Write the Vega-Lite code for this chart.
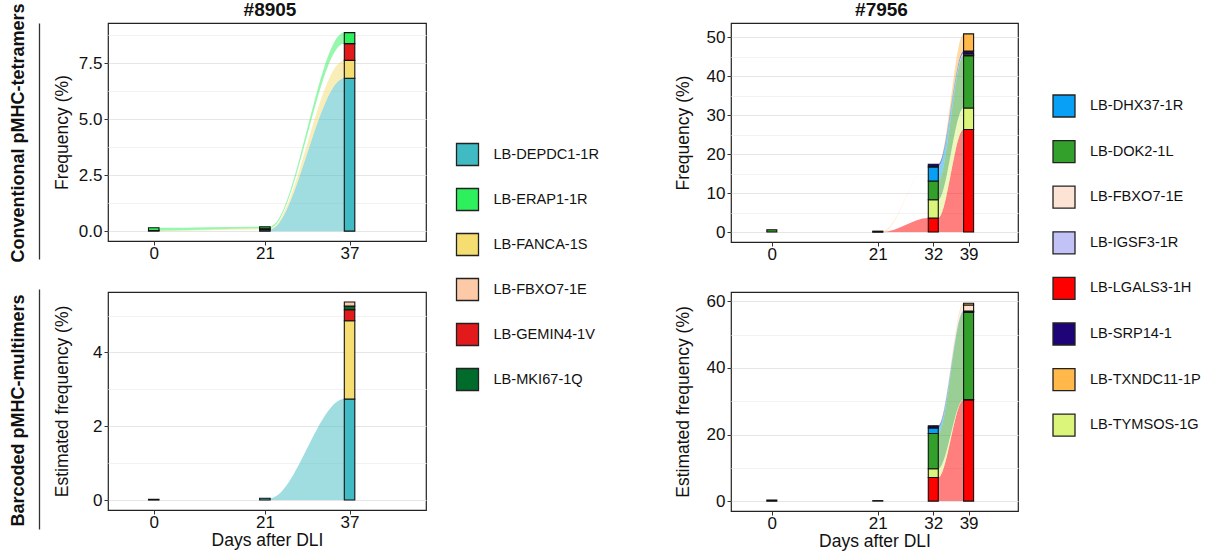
{
"$schema": "https://vega.github.io/schema/vega-lite/v6.json",
"padding": {"left": 8, "top": 0, "right": 2, "bottom": 2},
"config": {
  "font": "Liberation Sans",
  "view": {"stroke": "#222", "strokeWidth": 1.2},
  "axis": {"domain": false, "grid": false, "tickColor": "#333", "tickSize": 4, "labelFontSize": 17, "labelColor": "#111", "titleFontSize": 17.5, "titleFontWeight": "normal", "titleColor": "#111", "labelPadding": 2, "labelOverlap": false, "labelFlush": false},
  "title": {"fontSize": 19, "fontWeight": "bold", "color": "#111", "offset": 3},
  "legend": {"orient": "none", "title": null, "symbolType": "square", "symbolSize": 484, "symbolStrokeColor": "#222", "symbolStrokeWidth": 1.3, "symbolOpacity": 1, "labelFontSize": 14.6, "labelColor": "#111", "labelOffset": 14, "padding": 0}
},
"datasets": {
  "tl_bars": [
    {"day":0,"epitope":"LB-FANCA-1S","rank":2,"freq":0.03},
    {"day":0,"epitope":"LB-ERAP1-1R","rank":4,"freq":0.12},
    {"day":21,"epitope":"LB-DEPDC1-1R","rank":1,"freq":0.07},
    {"day":21,"epitope":"LB-FANCA-1S","rank":2,"freq":0.06},
    {"day":21,"epitope":"LB-ERAP1-1R","rank":4,"freq":0.07},
    {"day":37,"epitope":"LB-DEPDC1-1R","rank":1,"freq":6.83},
    {"day":37,"epitope":"LB-FANCA-1S","rank":2,"freq":0.80},
    {"day":37,"epitope":"LB-GEMIN4-1V","rank":3,"freq":0.75},
    {"day":37,"epitope":"LB-ERAP1-1R","rank":4,"freq":0.49}
  ],
  "tl_flows": [
    {"seg":"0-21","epitope":"LB-DEPDC1-1R","rank":1,"linked":"no","day":0,"freq":0},
    {"seg":"0-21","epitope":"LB-DEPDC1-1R","rank":1,"linked":"no","day":1,"freq":0},
    {"seg":"0-21","epitope":"LB-DEPDC1-1R","rank":1,"linked":"no","day":20,"freq":0.07},
    {"seg":"0-21","epitope":"LB-DEPDC1-1R","rank":1,"linked":"no","day":21,"freq":0.07},
    {"seg":"0-21","epitope":"LB-FANCA-1S","rank":2,"linked":"yes","day":0,"freq":0.03},
    {"seg":"0-21","epitope":"LB-FANCA-1S","rank":2,"linked":"yes","day":1,"freq":0.03},
    {"seg":"0-21","epitope":"LB-FANCA-1S","rank":2,"linked":"yes","day":20,"freq":0.06},
    {"seg":"0-21","epitope":"LB-FANCA-1S","rank":2,"linked":"yes","day":21,"freq":0.06},
    {"seg":"0-21","epitope":"LB-ERAP1-1R","rank":4,"linked":"yes","day":0,"freq":0.12},
    {"seg":"0-21","epitope":"LB-ERAP1-1R","rank":4,"linked":"yes","day":1,"freq":0.12},
    {"seg":"0-21","epitope":"LB-ERAP1-1R","rank":4,"linked":"yes","day":20,"freq":0.07},
    {"seg":"0-21","epitope":"LB-ERAP1-1R","rank":4,"linked":"yes","day":21,"freq":0.07},
    {"seg":"21-37","epitope":"LB-DEPDC1-1R","rank":1,"linked":"yes","day":21,"freq":0.07},
    {"seg":"21-37","epitope":"LB-DEPDC1-1R","rank":1,"linked":"yes","day":22,"freq":0.07},
    {"seg":"21-37","epitope":"LB-DEPDC1-1R","rank":1,"linked":"yes","day":36,"freq":6.83},
    {"seg":"21-37","epitope":"LB-DEPDC1-1R","rank":1,"linked":"yes","day":37,"freq":6.83},
    {"seg":"21-37","epitope":"LB-FANCA-1S","rank":2,"linked":"yes","day":21,"freq":0.06},
    {"seg":"21-37","epitope":"LB-FANCA-1S","rank":2,"linked":"yes","day":22,"freq":0.06},
    {"seg":"21-37","epitope":"LB-FANCA-1S","rank":2,"linked":"yes","day":36,"freq":0.80},
    {"seg":"21-37","epitope":"LB-FANCA-1S","rank":2,"linked":"yes","day":37,"freq":0.80},
    {"seg":"21-37","epitope":"LB-GEMIN4-1V","rank":3,"linked":"no","day":21,"freq":0},
    {"seg":"21-37","epitope":"LB-GEMIN4-1V","rank":3,"linked":"no","day":22,"freq":0},
    {"seg":"21-37","epitope":"LB-GEMIN4-1V","rank":3,"linked":"no","day":36,"freq":0.75},
    {"seg":"21-37","epitope":"LB-GEMIN4-1V","rank":3,"linked":"no","day":37,"freq":0.75},
    {"seg":"21-37","epitope":"LB-ERAP1-1R","rank":4,"linked":"yes","day":21,"freq":0.07},
    {"seg":"21-37","epitope":"LB-ERAP1-1R","rank":4,"linked":"yes","day":22,"freq":0.07},
    {"seg":"21-37","epitope":"LB-ERAP1-1R","rank":4,"linked":"yes","day":36,"freq":0.49},
    {"seg":"21-37","epitope":"LB-ERAP1-1R","rank":4,"linked":"yes","day":37,"freq":0.49}
  ],
  "bl_bars": [
    {"day":0,"epitope":"LB-DEPDC1-1R","rank":1,"freq":0.02},
    {"day":21,"epitope":"LB-DEPDC1-1R","rank":1,"freq":0.05},
    {"day":37,"epitope":"LB-DEPDC1-1R","rank":1,"freq":2.74},
    {"day":37,"epitope":"LB-FANCA-1S","rank":2,"freq":2.12},
    {"day":37,"epitope":"LB-GEMIN4-1V","rank":3,"freq":0.30},
    {"day":37,"epitope":"LB-MKI67-1Q","rank":5,"freq":0.10},
    {"day":37,"epitope":"LB-FBXO7-1E","rank":6,"freq":0.11}
  ],
  "bl_flows": [
    {"seg":"21-37","epitope":"LB-DEPDC1-1R","rank":1,"linked":"yes","day":21,"freq":0.05},
    {"seg":"21-37","epitope":"LB-DEPDC1-1R","rank":1,"linked":"yes","day":22,"freq":0.05},
    {"seg":"21-37","epitope":"LB-DEPDC1-1R","rank":1,"linked":"yes","day":36,"freq":2.74},
    {"seg":"21-37","epitope":"LB-DEPDC1-1R","rank":1,"linked":"yes","day":37,"freq":2.74}
  ],
  "tr_bars": [
    {"day":0,"epitope":"LB-DOK2-1L","rank":3,"freq":0.6},
    {"day":21,"epitope":"LB-LGALS3-1H","rank":1,"freq":0.03},
    {"day":21,"epitope":"LB-TXNDC11-1P","rank":8,"freq":0.2},
    {"day":32,"epitope":"LB-LGALS3-1H","rank":1,"freq":3.6},
    {"day":32,"epitope":"LB-TYMSOS-1G","rank":2,"freq":4.7},
    {"day":32,"epitope":"LB-DOK2-1L","rank":3,"freq":4.8},
    {"day":32,"epitope":"LB-DHX37-1R","rank":4,"freq":3.6},
    {"day":32,"epitope":"LB-SRP14-1","rank":6,"freq":0.7},
    {"day":39,"epitope":"LB-LGALS3-1H","rank":1,"freq":26.3},
    {"day":39,"epitope":"LB-TYMSOS-1G","rank":2,"freq":5.5},
    {"day":39,"epitope":"LB-DOK2-1L","rank":3,"freq":13.4},
    {"day":39,"epitope":"LB-DHX37-1R","rank":4,"freq":0.2},
    {"day":39,"epitope":"LB-IGSF3-1R","rank":5,"freq":0.3},
    {"day":39,"epitope":"LB-SRP14-1","rank":6,"freq":0.7},
    {"day":39,"epitope":"LB-TXNDC11-1P","rank":8,"freq":4.4}
  ],
  "tr_flows": [
    {"seg":"21-32","epitope":"LB-LGALS3-1H","rank":1,"linked":"yes","day":21,"freq":0.03},
    {"seg":"21-32","epitope":"LB-LGALS3-1H","rank":1,"linked":"yes","day":22,"freq":0.03},
    {"seg":"21-32","epitope":"LB-LGALS3-1H","rank":1,"linked":"yes","day":31,"freq":3.6},
    {"seg":"21-32","epitope":"LB-LGALS3-1H","rank":1,"linked":"yes","day":32,"freq":3.6},
    {"seg":"21-32","epitope":"LB-TYMSOS-1G","rank":2,"linked":"no","day":21,"freq":0},
    {"seg":"21-32","epitope":"LB-TYMSOS-1G","rank":2,"linked":"no","day":22,"freq":0},
    {"seg":"21-32","epitope":"LB-TYMSOS-1G","rank":2,"linked":"no","day":31,"freq":4.7},
    {"seg":"21-32","epitope":"LB-TYMSOS-1G","rank":2,"linked":"no","day":32,"freq":4.7},
    {"seg":"21-32","epitope":"LB-DOK2-1L","rank":3,"linked":"no","day":21,"freq":0},
    {"seg":"21-32","epitope":"LB-DOK2-1L","rank":3,"linked":"no","day":22,"freq":0},
    {"seg":"21-32","epitope":"LB-DOK2-1L","rank":3,"linked":"no","day":31,"freq":4.8},
    {"seg":"21-32","epitope":"LB-DOK2-1L","rank":3,"linked":"no","day":32,"freq":4.8},
    {"seg":"21-32","epitope":"LB-DHX37-1R","rank":4,"linked":"no","day":21,"freq":0},
    {"seg":"21-32","epitope":"LB-DHX37-1R","rank":4,"linked":"no","day":22,"freq":0},
    {"seg":"21-32","epitope":"LB-DHX37-1R","rank":4,"linked":"no","day":31,"freq":3.6},
    {"seg":"21-32","epitope":"LB-DHX37-1R","rank":4,"linked":"no","day":32,"freq":3.6},
    {"seg":"21-32","epitope":"LB-SRP14-1","rank":6,"linked":"no","day":21,"freq":0},
    {"seg":"21-32","epitope":"LB-SRP14-1","rank":6,"linked":"no","day":22,"freq":0},
    {"seg":"21-32","epitope":"LB-SRP14-1","rank":6,"linked":"no","day":31,"freq":0.7},
    {"seg":"21-32","epitope":"LB-SRP14-1","rank":6,"linked":"no","day":32,"freq":0.7},
    {"seg":"21-32","epitope":"LB-TXNDC11-1P","rank":8,"linked":"yes","day":21,"freq":0.2},
    {"seg":"21-32","epitope":"LB-TXNDC11-1P","rank":8,"linked":"yes","day":22,"freq":0.2},
    {"seg":"21-32","epitope":"LB-TXNDC11-1P","rank":8,"linked":"yes","day":31,"freq":0},
    {"seg":"21-32","epitope":"LB-TXNDC11-1P","rank":8,"linked":"yes","day":32,"freq":0},
    {"seg":"32-39","epitope":"LB-LGALS3-1H","rank":1,"linked":"yes","day":32,"freq":3.6},
    {"seg":"32-39","epitope":"LB-LGALS3-1H","rank":1,"linked":"yes","day":33,"freq":3.6},
    {"seg":"32-39","epitope":"LB-LGALS3-1H","rank":1,"linked":"yes","day":38,"freq":26.3},
    {"seg":"32-39","epitope":"LB-LGALS3-1H","rank":1,"linked":"yes","day":39,"freq":26.3},
    {"seg":"32-39","epitope":"LB-TYMSOS-1G","rank":2,"linked":"yes","day":32,"freq":4.7},
    {"seg":"32-39","epitope":"LB-TYMSOS-1G","rank":2,"linked":"yes","day":33,"freq":4.7},
    {"seg":"32-39","epitope":"LB-TYMSOS-1G","rank":2,"linked":"yes","day":38,"freq":5.5},
    {"seg":"32-39","epitope":"LB-TYMSOS-1G","rank":2,"linked":"yes","day":39,"freq":5.5},
    {"seg":"32-39","epitope":"LB-DOK2-1L","rank":3,"linked":"yes","day":32,"freq":4.8},
    {"seg":"32-39","epitope":"LB-DOK2-1L","rank":3,"linked":"yes","day":33,"freq":4.8},
    {"seg":"32-39","epitope":"LB-DOK2-1L","rank":3,"linked":"yes","day":38,"freq":13.4},
    {"seg":"32-39","epitope":"LB-DOK2-1L","rank":3,"linked":"yes","day":39,"freq":13.4},
    {"seg":"32-39","epitope":"LB-DHX37-1R","rank":4,"linked":"yes","day":32,"freq":3.6},
    {"seg":"32-39","epitope":"LB-DHX37-1R","rank":4,"linked":"yes","day":33,"freq":3.6},
    {"seg":"32-39","epitope":"LB-DHX37-1R","rank":4,"linked":"yes","day":38,"freq":0.2},
    {"seg":"32-39","epitope":"LB-DHX37-1R","rank":4,"linked":"yes","day":39,"freq":0.2},
    {"seg":"32-39","epitope":"LB-IGSF3-1R","rank":5,"linked":"yes","day":32,"freq":0},
    {"seg":"32-39","epitope":"LB-IGSF3-1R","rank":5,"linked":"yes","day":33,"freq":0},
    {"seg":"32-39","epitope":"LB-IGSF3-1R","rank":5,"linked":"yes","day":38,"freq":0.3},
    {"seg":"32-39","epitope":"LB-IGSF3-1R","rank":5,"linked":"yes","day":39,"freq":0.3},
    {"seg":"32-39","epitope":"LB-SRP14-1","rank":6,"linked":"yes","day":32,"freq":0.7},
    {"seg":"32-39","epitope":"LB-SRP14-1","rank":6,"linked":"yes","day":33,"freq":0.7},
    {"seg":"32-39","epitope":"LB-SRP14-1","rank":6,"linked":"yes","day":38,"freq":0.7},
    {"seg":"32-39","epitope":"LB-SRP14-1","rank":6,"linked":"yes","day":39,"freq":0.7},
    {"seg":"32-39","epitope":"LB-TXNDC11-1P","rank":8,"linked":"yes","day":32,"freq":0},
    {"seg":"32-39","epitope":"LB-TXNDC11-1P","rank":8,"linked":"yes","day":33,"freq":0},
    {"seg":"32-39","epitope":"LB-TXNDC11-1P","rank":8,"linked":"yes","day":38,"freq":4.4},
    {"seg":"32-39","epitope":"LB-TXNDC11-1P","rank":8,"linked":"yes","day":39,"freq":4.4}
  ],
  "br_bars": [
    {"day":0,"epitope":"LB-SRP14-1","rank":6,"freq":0.35},
    {"day":21,"epitope":"LB-TXNDC11-1P","rank":8,"freq":0.15},
    {"day":32,"epitope":"LB-LGALS3-1H","rank":1,"freq":7.1},
    {"day":32,"epitope":"LB-TYMSOS-1G","rank":2,"freq":2.6},
    {"day":32,"epitope":"LB-DOK2-1L","rank":3,"freq":10.6},
    {"day":32,"epitope":"LB-DHX37-1R","rank":4,"freq":1.7},
    {"day":32,"epitope":"LB-SRP14-1","rank":6,"freq":0.6},
    {"day":39,"epitope":"LB-LGALS3-1H","rank":1,"freq":30.4},
    {"day":39,"epitope":"LB-TYMSOS-1G","rank":2,"freq":0.1},
    {"day":39,"epitope":"LB-DOK2-1L","rank":3,"freq":26.2},
    {"day":39,"epitope":"LB-DHX37-1R","rank":4,"freq":0.1},
    {"day":39,"epitope":"LB-IGSF3-1R","rank":5,"freq":0.1},
    {"day":39,"epitope":"LB-SRP14-1","rank":6,"freq":0.2},
    {"day":39,"epitope":"LB-FBXO7-1E","rank":7,"freq":1.8},
    {"day":39,"epitope":"LB-TXNDC11-1P","rank":8,"freq":0.5}
  ],
  "br_flows": [
    {"seg":"32-39","epitope":"LB-LGALS3-1H","rank":1,"linked":"yes","day":32,"freq":7.1},
    {"seg":"32-39","epitope":"LB-LGALS3-1H","rank":1,"linked":"yes","day":33,"freq":7.1},
    {"seg":"32-39","epitope":"LB-LGALS3-1H","rank":1,"linked":"yes","day":38,"freq":30.4},
    {"seg":"32-39","epitope":"LB-LGALS3-1H","rank":1,"linked":"yes","day":39,"freq":30.4},
    {"seg":"32-39","epitope":"LB-TYMSOS-1G","rank":2,"linked":"yes","day":32,"freq":2.6},
    {"seg":"32-39","epitope":"LB-TYMSOS-1G","rank":2,"linked":"yes","day":33,"freq":2.6},
    {"seg":"32-39","epitope":"LB-TYMSOS-1G","rank":2,"linked":"yes","day":38,"freq":0.1},
    {"seg":"32-39","epitope":"LB-TYMSOS-1G","rank":2,"linked":"yes","day":39,"freq":0.1},
    {"seg":"32-39","epitope":"LB-DOK2-1L","rank":3,"linked":"yes","day":32,"freq":10.6},
    {"seg":"32-39","epitope":"LB-DOK2-1L","rank":3,"linked":"yes","day":33,"freq":10.6},
    {"seg":"32-39","epitope":"LB-DOK2-1L","rank":3,"linked":"yes","day":38,"freq":26.2},
    {"seg":"32-39","epitope":"LB-DOK2-1L","rank":3,"linked":"yes","day":39,"freq":26.2},
    {"seg":"32-39","epitope":"LB-DHX37-1R","rank":4,"linked":"yes","day":32,"freq":1.7},
    {"seg":"32-39","epitope":"LB-DHX37-1R","rank":4,"linked":"yes","day":33,"freq":1.7},
    {"seg":"32-39","epitope":"LB-DHX37-1R","rank":4,"linked":"yes","day":38,"freq":0.1},
    {"seg":"32-39","epitope":"LB-DHX37-1R","rank":4,"linked":"yes","day":39,"freq":0.1},
    {"seg":"32-39","epitope":"LB-IGSF3-1R","rank":5,"linked":"yes","day":32,"freq":0},
    {"seg":"32-39","epitope":"LB-IGSF3-1R","rank":5,"linked":"yes","day":33,"freq":0},
    {"seg":"32-39","epitope":"LB-IGSF3-1R","rank":5,"linked":"yes","day":38,"freq":0.1},
    {"seg":"32-39","epitope":"LB-IGSF3-1R","rank":5,"linked":"yes","day":39,"freq":0.1},
    {"seg":"32-39","epitope":"LB-SRP14-1","rank":6,"linked":"yes","day":32,"freq":0.6},
    {"seg":"32-39","epitope":"LB-SRP14-1","rank":6,"linked":"yes","day":33,"freq":0.6},
    {"seg":"32-39","epitope":"LB-SRP14-1","rank":6,"linked":"yes","day":38,"freq":0.2},
    {"seg":"32-39","epitope":"LB-SRP14-1","rank":6,"linked":"yes","day":39,"freq":0.2},
    {"seg":"32-39","epitope":"LB-FBXO7-1E","rank":7,"linked":"yes","day":32,"freq":0},
    {"seg":"32-39","epitope":"LB-FBXO7-1E","rank":7,"linked":"yes","day":33,"freq":0},
    {"seg":"32-39","epitope":"LB-FBXO7-1E","rank":7,"linked":"yes","day":38,"freq":1.8},
    {"seg":"32-39","epitope":"LB-FBXO7-1E","rank":7,"linked":"yes","day":39,"freq":1.8},
    {"seg":"32-39","epitope":"LB-TXNDC11-1P","rank":8,"linked":"yes","day":32,"freq":0},
    {"seg":"32-39","epitope":"LB-TXNDC11-1P","rank":8,"linked":"yes","day":33,"freq":0},
    {"seg":"32-39","epitope":"LB-TXNDC11-1P","rank":8,"linked":"yes","day":38,"freq":0.5},
    {"seg":"32-39","epitope":"LB-TXNDC11-1P","rank":8,"linked":"yes","day":39,"freq":0.5}
  ]
},
"columns": 2,
"bounds": "flush",
"spacing": {"row": 50, "column": 305},
"resolve": {"scale": {"color": "independent", "opacity": "independent", "x": "independent", "y": "independent"}},
"concat": [
 {
  "width": 318, "height": 218,
  "title": {"text": "#8905", "frame": "group", "anchor": "middle", "dy": 20, "dx": 3},
  "layer": [
   {"layer": [
     {"data": {"name": "tl_flows"},
      "transform": [{"stack": "freq", "groupby": ["seg", "day"], "sort": [{"field": "rank", "order": "ascending"}], "as": ["y0", "y1"]}],
      "mark": {"type": "area", "interpolate": "monotone"},
      "encoding": {
        "x": {"field": "day", "type": "quantitative", "scale": {"domain": [-7.7, 50.5], "nice": false, "zero": false}, "axis": {"values": [0, 21, 37], "title": null, "format": "d", "labelPadding": 0}},
        "y": {"field": "y1", "type": "quantitative", "scale": {"domain": [-0.44, 9.3], "nice": false, "zero": false},
              "axis": {"title": "Frequency (%)", "titlePadding": 7, "values": [0, 1.25, 2.5, 3.75, 5, 6.25, 7.5, 8.75], "grid": true,
                       "gridColor": {"condition": {"test": "datum.value % 2.5 !== 0", "value": "#f2f2f2"}, "value": "#e6e6e6"},
                       "tickOpacity": {"condition": {"test": "datum.value % 2.5 !== 0", "value": 0}, "value": 1},
                       "labelExpr": "datum.value % 2.5 === 0 ? format(datum.value, '.1f') : ''"}},
        "y2": {"field": "y0"},
        "color": {"field": "epitope", "type": "nominal", "legend": {"legendX": 347.5, "legendY": 119.5, "rowPadding": 17}, "scale": {"domain": ["LB-DEPDC1-1R","LB-ERAP1-1R","LB-FANCA-1S","LB-FBXO7-1E","LB-GEMIN4-1V","LB-MKI67-1Q"], "range": ["#40bbc3","#2ef05c","#f5dd72","#fdcaa8","#e31a1c","#006b2b"]}},
        "opacity": {"field": "linked", "type": "nominal", "legend": null, "scale": {"domain": ["yes", "no"], "range": [0.5, 0]}},
        "detail": {"field": "seg"}
      }},
     {"data": {"name": "tl_bars"},
      "mark": {"type": "bar", "width": 10.5, "stroke": "#111", "strokeWidth": 1.1},
      "encoding": {
        "x": {"field": "day", "type": "quantitative", "scale": {"domain": [-7.7, 50.5], "nice": false, "zero": false}, "axis": {"values": [0, 21, 37], "title": null, "format": "d", "labelPadding": 0}},
        "y": {"field": "freq", "type": "quantitative", "stack": "zero", "scale": {"domain": [-0.44, 9.3], "nice": false, "zero": false},
              "axis": {"title": "Frequency (%)", "titlePadding": 7, "values": [0, 1.25, 2.5, 3.75, 5, 6.25, 7.5, 8.75], "grid": true,
                       "gridColor": {"condition": {"test": "datum.value % 2.5 !== 0", "value": "#f2f2f2"}, "value": "#e6e6e6"},
                       "tickOpacity": {"condition": {"test": "datum.value % 2.5 !== 0", "value": 0}, "value": 1},
                       "labelExpr": "datum.value % 2.5 === 0 ? format(datum.value, '.1f') : ''"}},
        "color": {"field": "epitope", "type": "nominal", "legend": {"legendX": 347.5, "legendY": 119.5, "rowPadding": 17}, "scale": {"domain": ["LB-DEPDC1-1R","LB-ERAP1-1R","LB-FANCA-1S","LB-FBXO7-1E","LB-GEMIN4-1V","LB-MKI67-1Q"], "range": ["#40bbc3","#2ef05c","#f5dd72","#fdcaa8","#e31a1c","#006b2b"]}},
        "order": {"field": "rank", "type": "quantitative"}
      }}
   ]},
   {"data": {"name": "tl_bars"},
    "mark": {"type": "point", "opacity": 0},
    "encoding": {"y": {"field": "freq", "type": "quantitative", "scale": {"range": [236, 0]}, "axis": {"orient": "left", "offset": 69, "title": "Conventional pMHC-tetramers", "titleFontSize": 18, "titleFontWeight": "bold", "titlePadding": 12, "titleY": 109.5, "domain": true, "domainColor": "#333", "domainWidth": 1.3, "ticks": false, "labels": false, "grid": false}}}}
  ],
  "resolve": {"scale": {"y": "independent"}}
 },
 {
  "width": 287, "height": 219,
  "title": {"text": "#7956", "frame": "group", "anchor": "middle", "dx": 7},
  "layer": [
     {"data": {"name": "tr_flows"},
      "transform": [{"stack": "freq", "groupby": ["seg", "day"], "sort": [{"field": "rank", "order": "ascending"}], "as": ["y0", "y1"]}],
      "mark": {"type": "area", "interpolate": "monotone"},
      "encoding": {
        "x": {"field": "day", "type": "quantitative", "scale": {"domain": [-7.1, 47.8], "nice": false, "zero": false}, "axis": {"values": [0, 21, 32, 39], "title": null, "format": "d", "labelPadding": 0}},
        "y": {"field": "y1", "type": "quantitative", "scale": {"domain": [-2.55, 53.6], "nice": false, "zero": false},
              "axis": {"title": "Frequency (%)", "titlePadding": 14, "values": [0, 5, 10, 15, 20, 25, 30, 35, 40, 45, 50], "grid": true,
                       "gridColor": {"condition": {"test": "datum.value % 10 !== 0", "value": "#f2f2f2"}, "value": "#e6e6e6"},
                       "tickOpacity": {"condition": {"test": "datum.value % 10 !== 0", "value": 0}, "value": 1},
                       "labelExpr": "datum.value % 10 === 0 ? format(datum.value, 'd') : ''"}},
        "y2": {"field": "y0"},
        "color": {"field": "epitope", "type": "nominal", "legend": {"legendX": 321, "legendY": 71, "rowPadding": 17.6}, "scale": {"domain": ["LB-DHX37-1R","LB-DOK2-1L","LB-FBXO7-1E","LB-IGSF3-1R","LB-LGALS3-1H","LB-SRP14-1","LB-TXNDC11-1P","LB-TYMSOS-1G"], "range": ["#08a0f7","#33a02c","#fce3d3","#c2c2f7","#ff0000","#1f0478","#ffb849","#dbf47a"]}},
        "opacity": {"field": "linked", "type": "nominal", "legend": null, "scale": {"domain": ["yes", "no"], "range": [0.5, 0]}},
        "detail": {"field": "seg"}
      }},
     {"data": {"name": "tr_bars"},
      "mark": {"type": "bar", "width": 10, "stroke": "#111", "strokeWidth": 1.1},
      "encoding": {
        "x": {"field": "day", "type": "quantitative", "scale": {"domain": [-7.1, 47.8], "nice": false, "zero": false}, "axis": {"values": [0, 21, 32, 39], "title": null, "format": "d", "labelPadding": 0}},
        "y": {"field": "freq", "type": "quantitative", "stack": "zero", "scale": {"domain": [-2.55, 53.6], "nice": false, "zero": false},
              "axis": {"title": "Frequency (%)", "titlePadding": 14, "values": [0, 5, 10, 15, 20, 25, 30, 35, 40, 45, 50], "grid": true,
                       "gridColor": {"condition": {"test": "datum.value % 10 !== 0", "value": "#f2f2f2"}, "value": "#e6e6e6"},
                       "tickOpacity": {"condition": {"test": "datum.value % 10 !== 0", "value": 0}, "value": 1},
                       "labelExpr": "datum.value % 10 === 0 ? format(datum.value, 'd') : ''"}},
        "color": {"field": "epitope", "type": "nominal", "legend": {"legendX": 321, "legendY": 71, "rowPadding": 17.6}, "scale": {"domain": ["LB-DHX37-1R","LB-DOK2-1L","LB-FBXO7-1E","LB-IGSF3-1R","LB-LGALS3-1H","LB-SRP14-1","LB-TXNDC11-1P","LB-TYMSOS-1G"], "range": ["#08a0f7","#33a02c","#fce3d3","#c2c2f7","#ff0000","#1f0478","#ffb849","#dbf47a"]}},
        "order": {"field": "rank", "type": "quantitative"}
      }}
  ]
 },
 {
  "width": 318, "height": 218,
  "layer": [
   {"layer": [
     {"data": {"name": "bl_flows"},
      "transform": [{"stack": "freq", "groupby": ["seg", "day"], "sort": [{"field": "rank", "order": "ascending"}], "as": ["y0", "y1"]}],
      "mark": {"type": "area", "interpolate": "monotone"},
      "encoding": {
        "x": {"field": "day", "type": "quantitative", "scale": {"domain": [-7.7, 50.5], "nice": false, "zero": false}, "axis": {"values": [0, 21, 37], "title": "Days after DLI", "titlePadding": 1, "format": "d", "labelPadding": 0}},
        "y": {"field": "y1", "type": "quantitative", "scale": {"domain": [-0.27, 5.64], "nice": false, "zero": false},
              "axis": {"title": "Estimated frequency (%)", "titlePadding": 21, "values": [0, 1, 2, 3, 4, 5], "grid": true,
                       "gridColor": {"condition": {"test": "datum.value % 2 !== 0", "value": "#f2f2f2"}, "value": "#e6e6e6"},
                       "tickOpacity": {"condition": {"test": "datum.value % 2 !== 0", "value": 0}, "value": 1},
                       "labelExpr": "datum.value % 2 === 0 ? format(datum.value, 'd') : ''"}},
        "y2": {"field": "y0"},
        "color": {"field": "epitope", "type": "nominal", "legend": null, "scale": {"domain": ["LB-DEPDC1-1R","LB-ERAP1-1R","LB-FANCA-1S","LB-FBXO7-1E","LB-GEMIN4-1V","LB-MKI67-1Q"], "range": ["#40bbc3","#2ef05c","#f5dd72","#fdcaa8","#e31a1c","#006b2b"]}},
        "opacity": {"field": "linked", "type": "nominal", "legend": null, "scale": {"domain": ["yes", "no"], "range": [0.5, 0]}},
        "detail": {"field": "seg"}
      }},
     {"data": {"name": "bl_bars"},
      "mark": {"type": "bar", "width": 10.5, "stroke": "#111", "strokeWidth": 1.1},
      "encoding": {
        "x": {"field": "day", "type": "quantitative", "scale": {"domain": [-7.7, 50.5], "nice": false, "zero": false}, "axis": {"values": [0, 21, 37], "title": "Days after DLI", "titlePadding": 1, "format": "d", "labelPadding": 0}},
        "y": {"field": "freq", "type": "quantitative", "stack": "zero", "scale": {"domain": [-0.27, 5.64], "nice": false, "zero": false},
              "axis": {"title": "Estimated frequency (%)", "titlePadding": 21, "values": [0, 1, 2, 3, 4, 5], "grid": true,
                       "gridColor": {"condition": {"test": "datum.value % 2 !== 0", "value": "#f2f2f2"}, "value": "#e6e6e6"},
                       "tickOpacity": {"condition": {"test": "datum.value % 2 !== 0", "value": 0}, "value": 1},
                       "labelExpr": "datum.value % 2 === 0 ? format(datum.value, 'd') : ''"}},
        "color": {"field": "epitope", "type": "nominal", "legend": null, "scale": {"domain": ["LB-DEPDC1-1R","LB-ERAP1-1R","LB-FANCA-1S","LB-FBXO7-1E","LB-GEMIN4-1V","LB-MKI67-1Q"], "range": ["#40bbc3","#2ef05c","#f5dd72","#fdcaa8","#e31a1c","#006b2b"]}},
        "order": {"field": "rank", "type": "quantitative"}
      }}
   ]},
   {"data": {"name": "bl_bars"},
    "mark": {"type": "point", "opacity": 0},
    "encoding": {"y": {"field": "freq", "type": "quantitative", "scale": {"range": [237, -3]}, "axis": {"orient": "left", "offset": 69, "title": "Barcoded pMHC-multimers", "titleFontSize": 18, "titleFontWeight": "bold", "titlePadding": 12, "titleY": 118, "domain": true, "domainColor": "#333", "domainWidth": 1.3, "ticks": false, "labels": false, "grid": false}}}}
  ],
  "resolve": {"scale": {"y": "independent"}}
 },
 {
  "width": 287, "height": 219,
  "layer": [
     {"data": {"name": "br_flows"},
      "transform": [{"stack": "freq", "groupby": ["seg", "day"], "sort": [{"field": "rank", "order": "ascending"}], "as": ["y0", "y1"]}],
      "mark": {"type": "area", "interpolate": "monotone"},
      "encoding": {
        "x": {"field": "day", "type": "quantitative", "scale": {"domain": [-7.1, 47.8], "nice": false, "zero": false}, "axis": {"values": [0, 21, 32, 39], "title": "Days after DLI", "titlePadding": 1, "format": "d", "labelPadding": 0}},
        "y": {"field": "y1", "type": "quantitative", "scale": {"domain": [-2.97, 62.8], "nice": false, "zero": false},
              "axis": {"title": "Estimated frequency (%)", "titlePadding": 14, "values": [0, 10, 20, 30, 40, 50, 60], "grid": true,
                       "gridColor": {"condition": {"test": "datum.value % 20 !== 0", "value": "#f2f2f2"}, "value": "#e6e6e6"},
                       "tickOpacity": {"condition": {"test": "datum.value % 20 !== 0", "value": 0}, "value": 1},
                       "labelExpr": "datum.value % 20 === 0 ? format(datum.value, 'd') : ''"}},
        "y2": {"field": "y0"},
        "color": {"field": "epitope", "type": "nominal", "legend": null, "scale": {"domain": ["LB-DHX37-1R","LB-DOK2-1L","LB-FBXO7-1E","LB-IGSF3-1R","LB-LGALS3-1H","LB-SRP14-1","LB-TXNDC11-1P","LB-TYMSOS-1G"], "range": ["#08a0f7","#33a02c","#fce3d3","#c2c2f7","#ff0000","#1f0478","#ffb849","#dbf47a"]}},
        "opacity": {"field": "linked", "type": "nominal", "legend": null, "scale": {"domain": ["yes", "no"], "range": [0.5, 0]}},
        "detail": {"field": "seg"}
      }},
     {"data": {"name": "br_bars"},
      "mark": {"type": "bar", "width": 10, "stroke": "#111", "strokeWidth": 1.1},
      "encoding": {
        "x": {"field": "day", "type": "quantitative", "scale": {"domain": [-7.1, 47.8], "nice": false, "zero": false}, "axis": {"values": [0, 21, 32, 39], "title": "Days after DLI", "titlePadding": 1, "format": "d", "labelPadding": 0}},
        "y": {"field": "freq", "type": "quantitative", "stack": "zero", "scale": {"domain": [-2.97, 62.8], "nice": false, "zero": false},
              "axis": {"title": "Estimated frequency (%)", "titlePadding": 14, "values": [0, 10, 20, 30, 40, 50, 60], "grid": true,
                       "gridColor": {"condition": {"test": "datum.value % 20 !== 0", "value": "#f2f2f2"}, "value": "#e6e6e6"},
                       "tickOpacity": {"condition": {"test": "datum.value % 20 !== 0", "value": 0}, "value": 1},
                       "labelExpr": "datum.value % 20 === 0 ? format(datum.value, 'd') : ''"}},
        "color": {"field": "epitope", "type": "nominal", "legend": null, "scale": {"domain": ["LB-DHX37-1R","LB-DOK2-1L","LB-FBXO7-1E","LB-IGSF3-1R","LB-LGALS3-1H","LB-SRP14-1","LB-TXNDC11-1P","LB-TYMSOS-1G"], "range": ["#08a0f7","#33a02c","#fce3d3","#c2c2f7","#ff0000","#1f0478","#ffb849","#dbf47a"]}},
        "order": {"field": "rank", "type": "quantitative"}
      }}
  ]
 }
]
}
